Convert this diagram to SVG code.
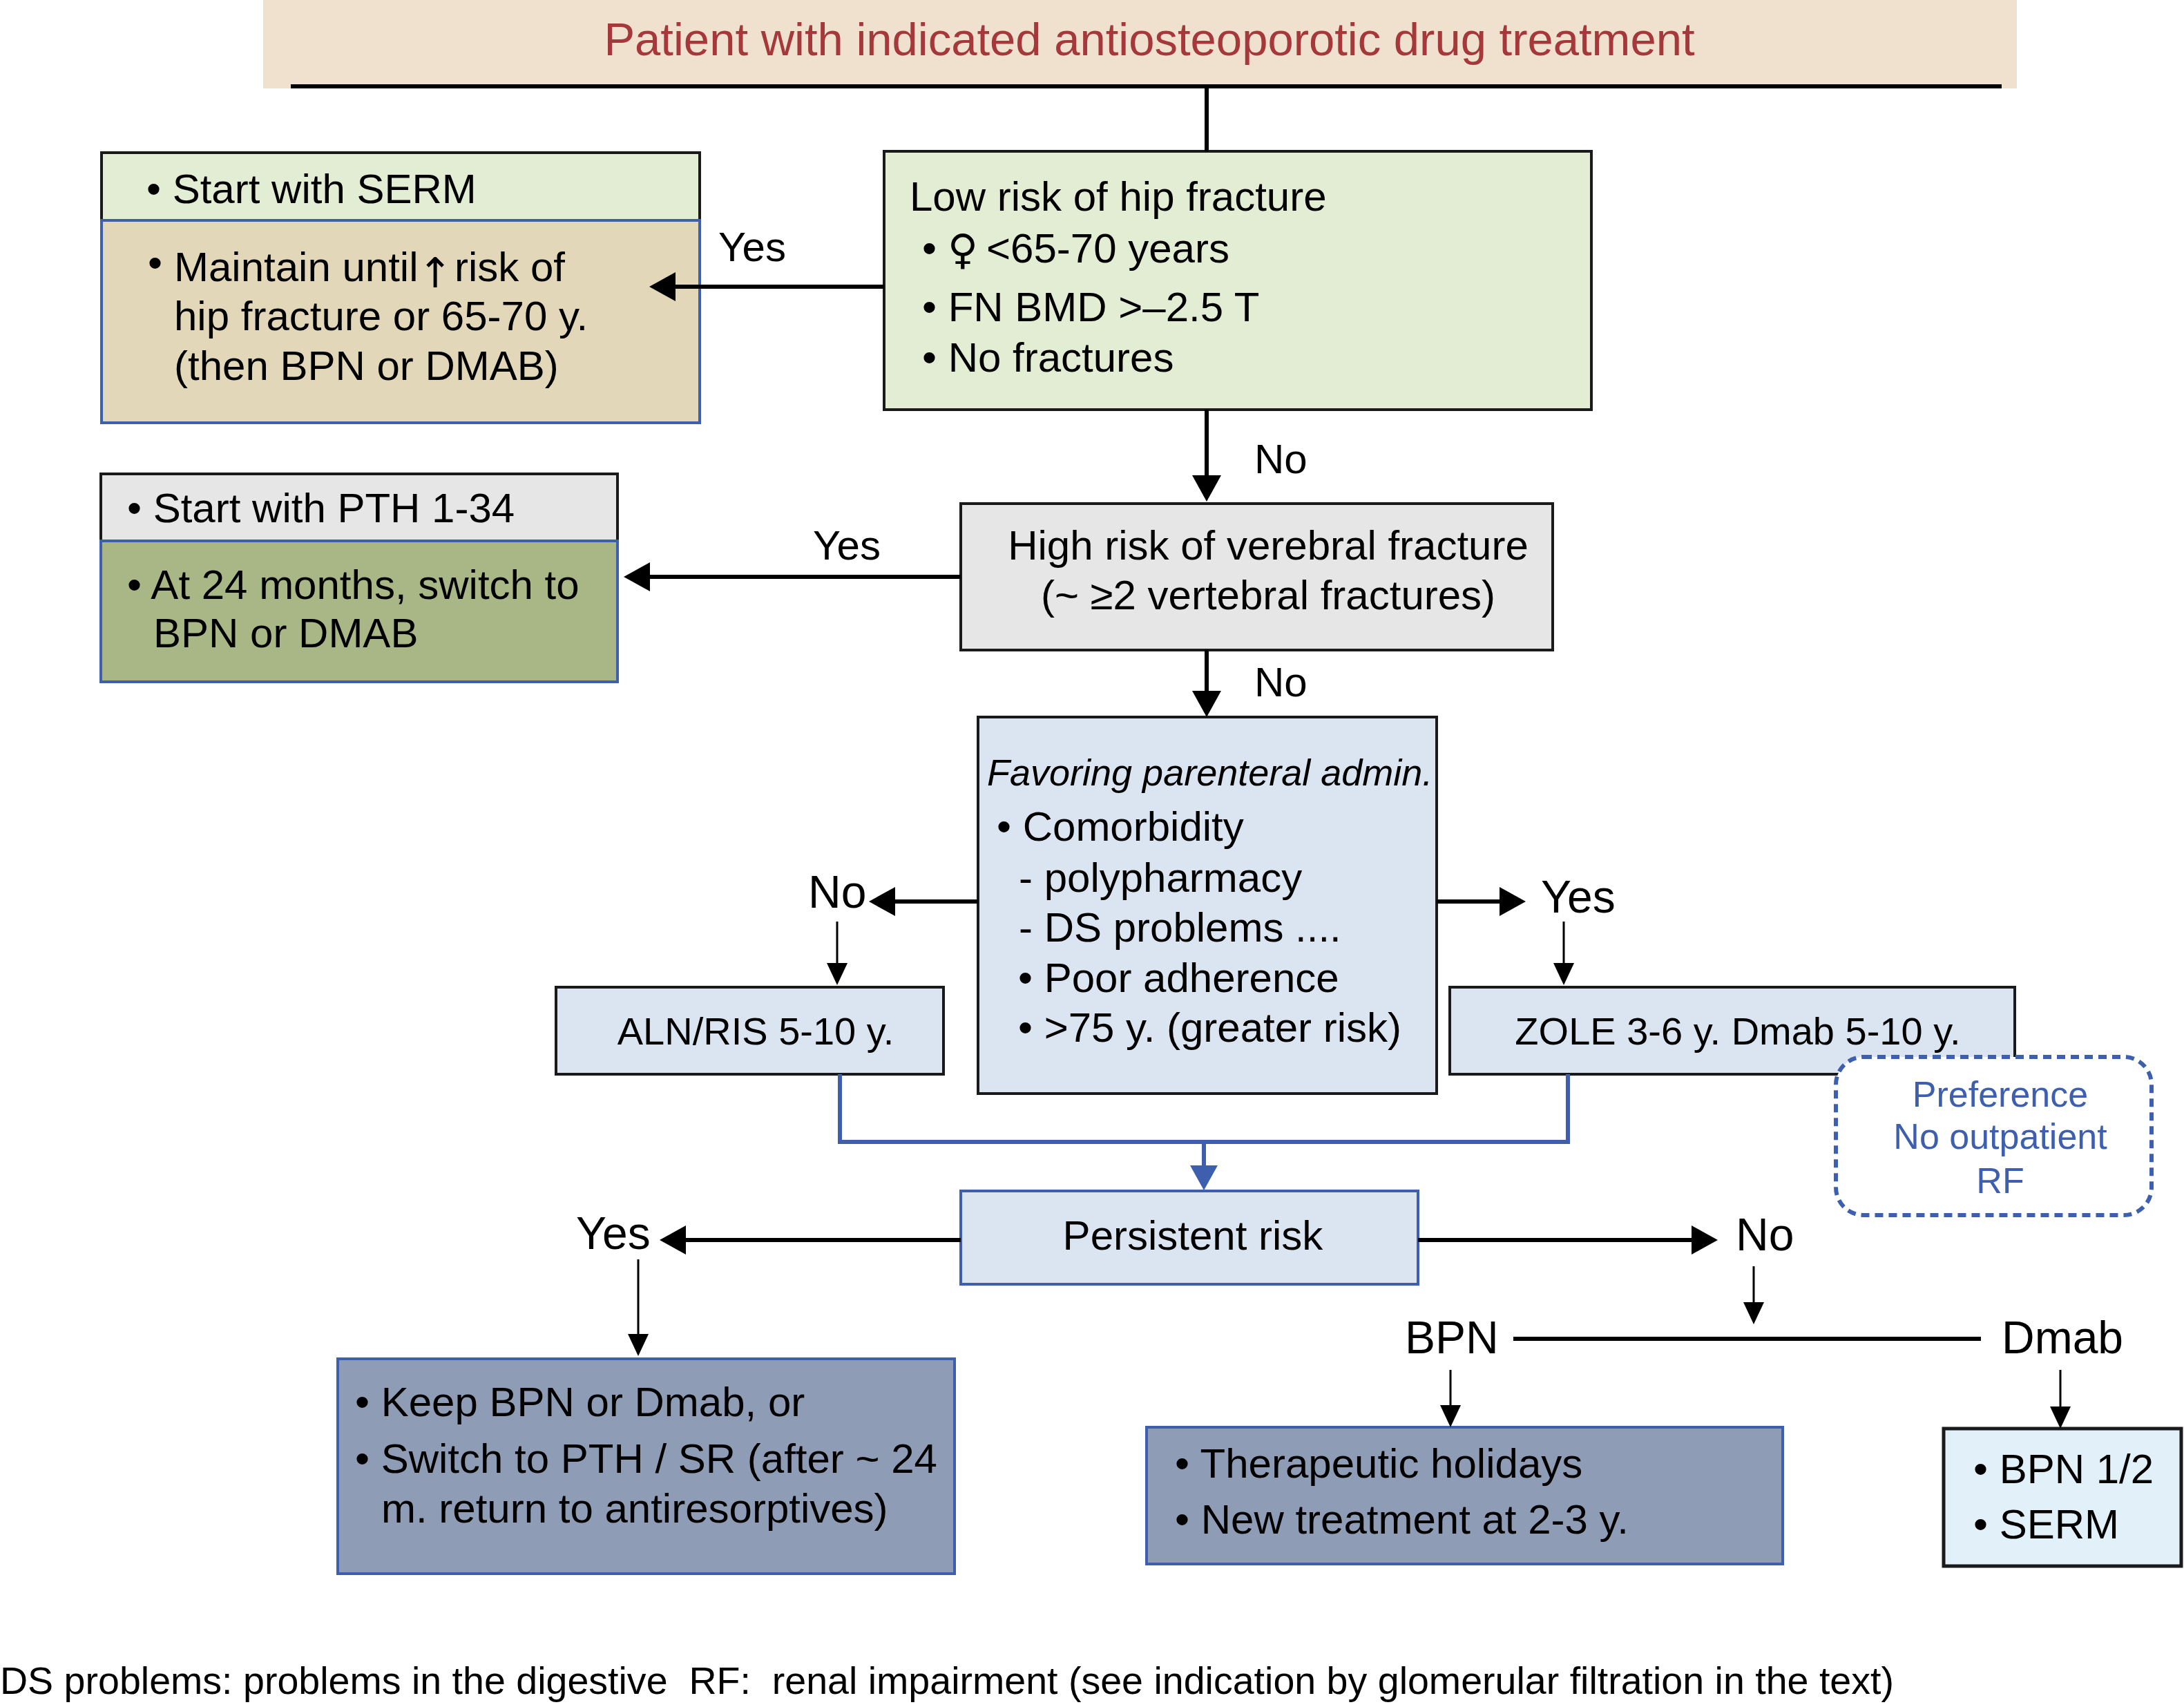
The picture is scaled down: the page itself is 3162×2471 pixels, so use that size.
<svg xmlns="http://www.w3.org/2000/svg" width="3162" height="2471" viewBox="0 0 3162 2471">
<style>
.t{font-family:"Liberation Sans","DejaVu Sans",Arial,sans-serif;font-size:60px;fill:#000}
.sym{font-family:"DejaVu Sans",sans-serif;font-weight:normal}
.s56{font-size:56px}
.s66{font-size:66px}
.it{font-style:italic;font-size:54px}
.mid{text-anchor:middle}
.bl{fill:#3e5fae;font-size:52px}
.title{font-size:67px;fill:#a5383a}
.foot{font-size:55.5px}
.bd{stroke:#1a1a1a;stroke-width:4}
.bb{stroke:#3e5fae;stroke-width:4}
.conn{stroke:#000;stroke-width:6;fill:none}
.thin{stroke:#000;stroke-width:3;fill:none}
.blue{stroke:#3e5fae;stroke-width:6;fill:none}
</style>
<defs>
<marker id="ah" markerUnits="userSpaceOnUse" markerWidth="38" markerHeight="42" viewBox="0 0 38 42" refX="0" refY="21" orient="auto"><path d="M0,0 L38,21 L0,42 z" fill="#000"/></marker>
<marker id="ahs" markerUnits="userSpaceOnUse" markerWidth="32" markerHeight="30" viewBox="0 0 32 30" refX="0" refY="15" orient="auto"><path d="M0,0 L32,15 L0,30 z" fill="#000"/></marker>
<marker id="ahb" markerUnits="userSpaceOnUse" markerWidth="36" markerHeight="40" viewBox="0 0 36 40" refX="0" refY="20" orient="auto"><path d="M0,0 L36,20 L0,40 z" fill="#3e5fae"/></marker>
</defs>
<rect width="3162" height="2471" fill="#fff"/>

<g id="title">
<rect x="381" y="0" width="2539" height="128" fill="#f0e1ce"/>
<text class="t title mid" x="1664" y="80">Patient with indicated antiosteoporotic drug treatment</text>
</g>

<g id="labels">
<text class="t" x="1040" y="378">Yes</text>
<text class="t" x="1816" y="685">No</text>
<text class="t" x="1177" y="810">Yes</text>
<text class="t" x="1816" y="1008">No</text>
<text class="t s66" x="1170" y="1314">No</text>
<text class="t s66" x="2231" y="1321">Yes</text>
<text class="t s66" x="834" y="1808">Yes</text>
<text class="t s66" x="2513" y="1810">No</text>
<text class="t s66" x="2034" y="1959">BPN</text>
<text class="t s66" x="2898" y="1959">Dmab</text>
</g>

<g id="low-risk">
<rect x="1280" y="219" width="1024" height="374" fill="#e2edd4" class="bd"/>
<text class="t" x="1317" y="305">Low risk of hip fracture</text>
<text class="t" x="1335" y="380">•</text>
<text class="t sym" x="1372" y="382" font-size="70">♀</text>
<text class="t" x="1428" y="380">&lt;65-70 years</text>
<text class="t" x="1335" y="465">• FN BMD &gt;–2.5 T</text>
<text class="t" x="1335" y="538">• No fractures</text>
</g>

<g id="serm">
<rect x="147" y="221" width="866" height="98" fill="#e2edd4" class="bd"/>
<rect x="147" y="319" width="866" height="293" fill="#e3d7b9" class="bb"/>
<text class="t" x="212" y="294">• Start with SERM</text>
<text class="t" x="214" y="401">•</text>
<text class="t" x="252" y="407">Maintain until</text>
<text class="t sym mid" x="630" y="416" font-size="66">↑</text>
<text class="t" x="658" y="407">risk of</text>
<text class="t" x="252" y="478">hip fracture or 65-70 y.</text>
<text class="t" x="252" y="550">(then BPN or DMAB)</text>
</g>

<g id="pth">
<rect x="146" y="686" width="748" height="97" fill="#e6e6e6" class="bd"/>
<rect x="146" y="783" width="748" height="204" fill="#a8b785" class="bb"/>
<text class="t" x="184" y="756">• Start with PTH 1-34</text>
<text class="t" x="184" y="867">• At 24 months, switch to</text>
<text class="t" x="222" y="937">BPN or DMAB</text>
</g>

<g id="high-risk">
<rect x="1391" y="729" width="857" height="212" fill="#e6e6e6" class="bd"/>
<text class="t mid" x="1836" y="810">High risk of verebral fracture</text>
<text class="t mid" x="1836" y="882">(~ ≥2 vertebral fractures)</text>
</g>

<g id="favoring">
<rect x="1416" y="1038" width="664" height="545" fill="#dbe5f2" class="bd"/>
<text class="t it" x="1429" y="1137">Favoring parenteral admin.</text>
<text class="t" x="1443" y="1217">• Comorbidity</text>
<text class="t" x="1475" y="1291">- polypharmacy</text>
<text class="t" x="1475" y="1363">- DS problems ....</text>
<text class="t" x="1474" y="1436">• Poor adherence</text>
<text class="t" x="1474" y="1508">• &gt;75 y. (greater risk)</text>
</g>

<g id="aln">
<rect x="805" y="1429" width="561" height="126" fill="#dbe5f2" class="bd"/>
<text class="t s56 mid" x="1094" y="1512">ALN/RIS 5-10 y.</text>
</g>

<g id="zole">
<rect x="2099" y="1429" width="818" height="126" fill="#dbe5f2" class="bd"/>
<text class="t s56 mid" x="2516" y="1512">ZOLE 3-6 y. Dmab 5-10 y.</text>
</g>

<g id="preference">
<rect x="2658" y="1530" width="457" height="229" rx="40" ry="40" fill="#fff" stroke="#3e5fae" stroke-width="6" stroke-dasharray="12 8"/>
<text class="t bl mid" x="2896" y="1602">Preference</text>
<text class="t bl mid" x="2896" y="1663">No outpatient</text>
<text class="t bl mid" x="2896" y="1727">RF</text>
</g>

<g id="persistent">
<rect x="1391" y="1724" width="662" height="135" fill="#dbe5f2" class="bb"/>
<text class="t mid" x="1727" y="1809">Persistent risk</text>
</g>

<g id="keep">
<rect x="489" y="1967" width="893" height="311" fill="#8f9cb5" class="bb"/>
<text class="t" x="514" y="2050">• Keep BPN or Dmab, or</text>
<text class="t" x="514" y="2132">• Switch to PTH / SR (after ~ 24</text>
<text class="t" x="552" y="2204">m. return to antiresorptives)</text>
</g>

<g id="holidays">
<rect x="1660" y="2066" width="921" height="198" fill="#8f9cb5" class="bb"/>
<text class="t" x="1701" y="2139">• Therapeutic holidays</text>
<text class="t" x="1701" y="2220">• New treatment at 2-3 y.</text>
</g>

<g id="bpn-serm">
<rect x="2814" y="2068" width="344" height="199" fill="#e2f0fa" stroke="#1a1a1a" stroke-width="5"/>
<text class="t" x="2857" y="2147">• BPN 1/2</text>
<text class="t" x="2857" y="2227">• SERM</text>
</g>

<g id="footer">
<text class="t foot" x="0" y="2452" xml:space="preserve" textLength="2742" lengthAdjust="spacingAndGlyphs">DS problems: problems in the digestive  RF:  renal impairment (see indication by glomerular filtration in the text)</text>
</g>

<g id="connectors">
<line class="conn" x1="421" y1="125" x2="2898" y2="125" stroke-width="7"/>
<line class="conn" x1="1747" y1="125" x2="1747" y2="219"/>
<line class="conn" x1="1280" y1="415" x2="978" y2="415" marker-end="url(#ah)"/>
<line class="conn" x1="1747" y1="593" x2="1747" y2="688" marker-end="url(#ah)"/>
<line class="conn" x1="1391" y1="835" x2="941" y2="835" marker-end="url(#ah)"/>
<line class="conn" x1="1747" y1="941" x2="1747" y2="1000" marker-end="url(#ah)"/>
<line class="conn" x1="1416" y1="1305" x2="1296" y2="1305" marker-end="url(#ah)"/>
<line class="conn" x1="2080" y1="1305" x2="2171" y2="1305" marker-end="url(#ah)"/>
<line class="thin" x1="1212" y1="1334" x2="1212" y2="1394" marker-end="url(#ahs)"/>
<line class="thin" x1="2264" y1="1334" x2="2264" y2="1394" marker-end="url(#ahs)"/>
<polyline class="blue" points="1216,1555 1216,1653 2270,1653 2270,1555"/>
<line class="blue" x1="1743" y1="1653" x2="1743" y2="1687" marker-end="url(#ahb)"/>
<line class="conn" x1="1391" y1="1795" x2="993" y2="1795" marker-end="url(#ah)"/>
<line class="conn" x1="2053" y1="1795" x2="2449" y2="1795" marker-end="url(#ah)"/>
<line class="thin" x1="924" y1="1823" x2="924" y2="1931" marker-end="url(#ahs)"/>
<line class="thin" x1="2539" y1="1833" x2="2539" y2="1885" marker-end="url(#ahs)"/>
<line class="conn" x1="2191" y1="1938" x2="2868" y2="1938"/>
<line class="thin" x1="2100" y1="1983" x2="2100" y2="2034" marker-end="url(#ahs)"/>
<line class="thin" x1="2983" y1="1983" x2="2983" y2="2036" marker-end="url(#ahs)"/>
</g>
</svg>
